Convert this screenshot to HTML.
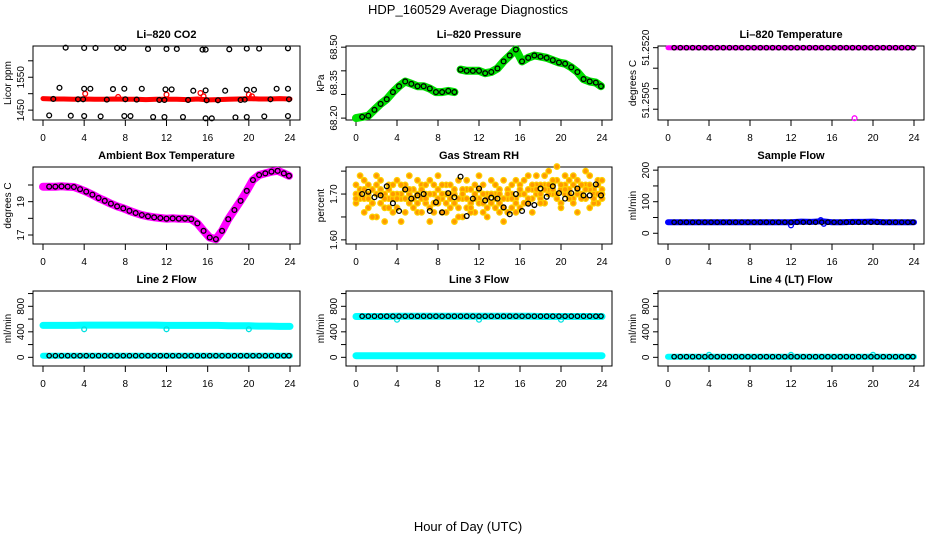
<!DOCTYPE html>
<html><head><meta charset="utf-8">
<style>
html,body{margin:0;padding:0;background:#fff;}
svg{display:block;font-family:"Liberation Sans",sans-serif;}
</style></head>
<body>
<svg id="chart" width="936" height="540" viewBox="0 0 936 540" xmlns="http://www.w3.org/2000/svg">
<text x="468" y="14" text-anchor="middle" font-size="13">HDP_160529  Average Diagnostics</text>
<text x="468" y="531" text-anchor="middle" font-size="13">Hour of Day (UTC)</text>
</svg>
<script>
// ---- data ----
const xTicks = [0,4,8,12,16,20,24];
const blkT = [0.6,1.2,1.8,2.4,3.0,3.6,4.2,4.8,5.4,6.0,6.6,7.2,7.8,8.4,9.0,9.6,10.2,10.8,11.4,12.0,12.6,13.2,13.8,14.4,15.0,15.6,16.2,16.8,17.4,18.0,18.6,19.2,19.8,20.4,21.0,21.6,22.2,22.8,23.4,23.9];
const hourT = [0,1,2,3,4,5,6,7,8,9,10,11,12,13,14,15,16,17,18,19,20,21,22,23,24];

const co2Red = [1485,1484,1484,1483,1484,1483,1483,1484,1483,1483,1482,1483,1483,1483,1482,1484,1481,1482,1483,1484,1485,1484,1484,1485,1484];
const co2RedOutT = [4.1,7.3,12.0,15.3,15.6,20.0,20.3];
const co2RedOutV = [1500,1490,1497,1502,1492,1497,1492];
const co2TopT = [2.2,4.0,5.1,7.2,7.8,10.2,12.0,13.0,15.5,15.8,18.1,19.8,21.0,23.8];
const co2TopV = [1640,1639,1639,1639,1639,1636,1636,1636,1634,1634,1635,1637,1637,1638];
const co2MidT = [1.6,4.0,4.6,6.8,7.9,9.6,11.9,12.5,14.6,15.8,17.7,19.8,20.5,22.7,23.8];
const co2MidV = [1518,1515,1515,1514,1515,1515,1513,1513,1509,1510,1509,1512,1512,1515,1515];
const co2LowT = [1.0,3.4,3.9,6.2,8.0,9.1,11.3,11.8,14.1,15.9,17.0,19.2,19.6,22.1,23.9];
const co2LowV = [1484,1483,1483,1482,1483,1482,1481,1481,1481,1480,1480,1481,1482,1483,1483];
const co2BotT = [0.6,2.7,4.0,5.6,7.9,8.5,10.7,11.8,13.6,15.8,16.4,18.7,19.8,21.5,23.8];
const co2BotV = [1434,1433,1432,1431,1432,1432,1429,1429,1429,1425,1425,1428,1429,1431,1432];

const presV = [68.205,68.21,68.235,68.26,68.28,68.31,68.335,68.355,68.345,68.335,68.335,68.325,68.31,68.31,68.315,68.31,68.405,68.40,68.40,68.40,68.39,68.395,68.41,68.44,68.465,68.49,68.44,68.455,68.465,68.46,68.455,68.445,68.435,68.43,68.415,68.395,68.365,68.355,68.35,68.335];

const tempV = 51.2520;
const tempOutT = [18.2];
const tempOutV = [51.25028];

const ambV = [19.9,19.9,19.92,19.9,19.88,19.75,19.6,19.42,19.22,19.05,18.88,18.72,18.6,18.45,18.32,18.2,18.12,18.06,18.02,17.98,18.0,17.98,17.98,17.95,17.7,17.25,16.85,16.75,17.25,17.95,18.5,19.05,19.65,20.3,20.6,20.7,20.8,20.85,20.7,20.55];

const rhT = [0,0.4,0.8,1.2,1.6,2,2.4,2.8,3.2,3.6,4,4.4,4.8,5.2,5.6,6,6.4,6.8,7.2,7.6,8,8.4,8.8,9.2,9.6,10,10.4,10.8,11.2,11.6,12,12.4,12.8,13.2,13.6,14,14.4,14.8,15.2,15.6,16,16.4,16.8,17.2,17.6,18,18.4,18.8,19.2,19.6,20,20.4,20.8,21.2,21.6,22,22.4,22.8,23.2,23.6,24];
const rhA = [1.72,1.69,1.73,1.67,1.71,1.74,1.68,1.70,1.72,1.66,1.73,1.69,1.71,1.74,1.67,1.70,1.72,1.68,1.73,1.66,1.71,1.69,1.72,1.67,1.70,1.73,1.65,1.71,1.68,1.72,1.69,1.66,1.70,1.73,1.67,1.71,1.64,1.69,1.72,1.66,1.70,1.73,1.68,1.71,1.74,1.69,1.72,1.75,1.70,1.73,1.68,1.74,1.71,1.69,1.73,1.70,1.72,1.67,1.71,1.73,1.69];
const rhB = [1.68,1.71,1.66,1.70,1.68,1.65,1.71,1.67,1.69,1.72,1.67,1.70,1.66,1.68,1.71,1.66,1.69,1.72,1.67,1.70,1.68,1.72,1.66,1.70,1.68,1.65,1.69,1.67,1.71,1.66,1.68,1.70,1.65,1.68,1.70,1.66,1.69,1.71,1.67,1.69,1.72,1.68,1.71,1.69,1.70,1.72,1.68,1.70,1.72,1.69,1.71,1.70,1.73,1.68,1.70,1.72,1.69,1.71,1.70,1.68,1.71];
const rhC = [1.70,1.74,1.69,1.72,1.65,1.70,1.73,1.64,1.71,1.69,1.70,1.64,1.72,1.70,1.69,1.73,1.66,1.70,1.64,1.72,1.74,1.66,1.70,1.72,1.64,1.69,1.71,1.73,1.66,1.69,1.74,1.72,1.67,1.70,1.72,1.70,1.73,1.66,1.70,1.73,1.67,1.70,1.74,1.66,1.72,1.68,1.74,1.71,1.73,1.76,1.67,1.72,1.69,1.74,1.66,1.72,1.75,1.74,1.68,1.70,1.73];
const rhD = [1.69,1.70,1.71,1.69,1.68,1.72,1.70,1.69,1.67,1.70,1.69,1.72,1.69,1.71,1.69,1.68,1.71,1.69,1.70,1.68,1.69,1.70,1.68,1.69,1.71,1.67,1.70,1.69,1.67,1.70,1.71,1.68,1.69,1.70,1.69,1.68,1.67,1.70,1.69,1.68,1.71,1.70,1.69,1.72,1.71,1.70,1.71,1.72,1.71,1.70,1.72,1.71,1.70,1.72,1.71,1.69,1.71,1.72,1.69,1.72,1.70];
const rhBlk = [1.700,1.705,1.693,1.697,1.717,1.680,1.663,1.710,1.690,1.697,1.700,1.663,1.682,1.660,1.702,1.693,1.738,1.652,1.690,1.712,1.686,1.692,1.690,1.671,1.656,1.700,1.663,1.679,1.676,1.712,1.694,1.717,1.702,1.690,1.702,1.712,1.697,1.697,1.721,1.697];

const sampleBlue = [35,35,35,35,35,35,35,35,35,35,35,35,35,37,36,38,35,35,36,36,37,35,35,35,35];
const sampleOutT = [12.0,14.9,15.2];
const sampleOutV = [25,42,30];
const sampleBlk = 35;

const l2High = [500,500,500,500,505,505,505,505,505,505,505,505,500,500,500,500,500,500,495,495,495,490,490,485,485];
const l2Low = 25;
const l2DipT = [4.0,12.0,20.0];
const l2DipV = [440,440,440];
const l3High = [640,640,640,640,645,645,645,645,645,645,645,645,645,645,645,645,645,645,640,640,640,640,640,640,640];
const l3Blk = 645;
const l3Low = 25;
const l3DipT = [4.0,12.0,20.0];
const l3DipV = [590,590,590];
const l4Val = 10;
const l4BumpT = [4.0,12.0,20.0];
const l4BumpV = [40,40,40];

// ---- drawing ----
const svg = document.getElementById('chart');
const NS = 'http://www.w3.org/2000/svg';
function mk(tag, attrs, parent){ const e=document.createElementNS(NS,tag); for(const k in attrs) e.setAttribute(k,attrs[k]); (parent||svg).appendChild(e); return e; }

function panel(p){
  const g = mk('g',{});
  
  
  const sx = t => p.x0 + 10 + t/24*(p.x1-p.x0-20);
  const sy = v => p.y1 - (v-p.ymin)/(p.ymax-p.ymin)*(p.y1-p.y0);
  p.sx=sx; p.sy=sy; p.g=g;
  const box = mk('rect',{x:p.x0,y:p.y0,width:p.x1-p.x0,height:p.y1-p.y0,fill:'none',stroke:'#000','stroke-width':1},g);
  
  
  const tt = mk('text',{x:(p.x0+p.x1)/2,y:p.y0-8,'text-anchor':'middle','font-size':11,'font-weight':'bold'},g);
  tt.textContent = p.title;
  
  
  mk('line',{x1:sx(0),x2:sx(24),y1:p.y1,y2:p.y1,stroke:'#000'},g);
  xTicks.forEach(t=>{
    mk('line',{x1:sx(t),x2:sx(t),y1:p.y1,y2:p.y1+6,stroke:'#000'},g);
    const l = mk('text',{x:sx(t),y:p.y1+21,'text-anchor':'middle','font-size':10},g);
    l.textContent = t;
    
    
  });
  const ty = p.yticks.map(sy);
  mk('line',{x1:p.x0,x2:p.x0,y1:Math.min(...ty),y2:Math.max(...ty),stroke:'#000'},g);
  p.yticks.forEach(v=>mk('line',{x1:p.x0-5,x2:p.x0,y1:sy(v),y2:sy(v),stroke:'#000'},g));
  p.ylabels.forEach((v,i)=>{
    const y = sy(v);
    const l = mk('text',{x:p.x0-9,y:y,'text-anchor':'middle','font-size':10,transform:`rotate(-90 ${p.x0-9} ${y})`},g);
    l.textContent = p.ylabelText[i];
    
    
  });
  const yc=(p.y0+p.y1)/2;
  const yt = mk('text',{x:p.x0-22,y:yc,'text-anchor':'middle','font-size':10,transform:`rotate(-90 ${p.x0-22} ${yc})`},g);
  yt.textContent = p.ylab;
  
  
  return p;
}
function pts(p, ts, vs, color, opts){
  opts=opts||{};
  ts.forEach((t,i)=>{
    const v = Array.isArray(vs)? vs[i] : vs;
    if (v === undefined) return;
    const c = mk('circle',{cx:p.sx(t),cy:p.sy(v),r:opts.r||2.4,fill:opts.fill||'none',stroke:color,'stroke-width':opts.sw||1.3},p.g);
    
    
  });
}
function band(p, ts, vs, color, w, name){
  const d = ts.map((t,i)=>(i?'L':'M')+p.sx(t).toFixed(1)+' '+p.sy(Array.isArray(vs)?vs[i]:vs).toFixed(1)).join(' ');
  const e = mk('path',{d:d,fill:'none',stroke:color,'stroke-width':w,'stroke-linejoin':'round','stroke-linecap':'round'},p.g);
  
  
}

const C1=[33,300], C2=[346,612], C3=[658,924];
const R1=[46,120], R2=[167,244], R3=[291,366];

// CO2
let p = panel({name:'co2-panel',title:'Li\u2013820 CO2',ylab:'Licor ppm',x0:C1[0],x1:C1[1],y0:R1[0],y1:R1[1],ymin:1420,ymax:1645,yticks:[1450,1500,1550,1600],ylabels:[1450,1550],ylabelText:['1450','1550']});
band(p,hourT,co2Red,'#ff0000',5,'co2-red-series');
pts(p,co2RedOutT,co2RedOutV,'#ff0000',{name:'co2-red-outlier'});
pts(p,co2TopT,co2TopV,'#000',{name:'co2-black-point'});
pts(p,co2MidT,co2MidV,'#000',{name:'co2-black-point'});
pts(p,co2LowT,co2LowV,'#000',{name:'co2-black-point'});
pts(p,co2BotT,co2BotV,'#000',{name:'co2-black-point'});

// Pressure
p = panel({name:'pressure-panel',title:'Li\u2013820 Pressure',ylab:'kPa',x0:C2[0],x1:C2[1],y0:R1[0],y1:R1[1],ymin:68.192,ymax:68.505,yticks:[68.20,68.30,68.40,68.50],ylabels:[68.20,68.35,68.50],ylabelText:['68.20','68.35','68.50']});
band(p,[0].concat(blkT.slice(0,16)),[68.2].concat(presV.slice(0,16)),'#00e000',8,'pressure-green-series');
band(p,blkT.slice(16),presV.slice(16),'#00e000',8,'pressure-green-series');
pts(p,blkT,presV,'#000',{name:'pressure-black-point'});

// Temperature
p = panel({name:'li820-temperature-panel',title:'Li\u2013820 Temperature',ylab:'degrees C',x0:C3[0],x1:C3[1],y0:R1[0],y1:R1[1],ymin:51.250237,ymax:51.252041,yticks:[51.2520,51.2515,51.2510,51.2505],ylabels:[51.2520,51.25072],ylabelText:['51.2520','51.2505']});
band(p,hourT,tempV,'#ff00ff',5,'temperature-magenta-series');
pts(p,blkT,tempV,'#000',{name:'temperature-black-point',r:2.2});
pts(p,tempOutT,tempOutV,'#ff00ff',{name:'temperature-outlier'});

// Ambient
p = panel({name:'ambient-temperature-panel',title:'Ambient Box Temperature',ylab:'degrees C',x0:C1[0],x1:C1[1],y0:R2[0],y1:R2[1],ymin:16.46,ymax:21.08,yticks:[17,18,19,20],ylabels:[17,19],ylabelText:['17','19']});
band(p,[0].concat(blkT),[19.9].concat(ambV),'#ff00ff',8,'ambient-magenta-series');
pts(p,blkT,ambV,'#000',{name:'ambient-black-point'});

// RH
p = panel({name:'gas-stream-rh-panel',title:'Gas Stream RH',ylab:'percent',x0:C2[0],x1:C2[1],y0:R2[0],y1:R2[1],ymin:1.591,ymax:1.759,yticks:[1.60,1.65,1.70,1.75],ylabels:[1.60,1.70],ylabelText:['1.60','1.70']});
[rhA,rhB,rhC,rhD].forEach(arr=>pts(p,rhT,arr,'#ffd000',{fill:'#ff9a00',r:2.8,sw:1.2,name:'rh-orange-point'}));
pts(p,blkT,rhBlk,'#000',{name:'rh-black-point'});

// Sample flow
p = panel({name:'sample-flow-panel',title:'Sample Flow',ylab:'ml/min',x0:C3[0],x1:C3[1],y0:R2[0],y1:R2[1],ymin:-34,ymax:210,yticks:[0,50,100,150,200],ylabels:[0,100,200],ylabelText:['0','100','200']});
band(p,hourT,sampleBlue,'#0000ff',6,'sample-flow-blue-series');
pts(p,sampleOutT,sampleOutV,'#0000ff',{name:'sample-flow-blue-outlier'});
pts(p,blkT,sampleBlk,'#000',{name:'sample-flow-black-point',r:2.2});

// Line 2
const fl = {ymin:-136,ymax:1040,yticks:[0,200,400,600,800,1000],ylabels:[0,400,800],ylabelText:['0','400','800'],ylab:'ml/min',y0:R3[0],y1:R3[1]};
p = panel(Object.assign({name:'line2-flow-panel',title:'Line 2 Flow',x0:C1[0],x1:C1[1]},fl));
band(p,hourT,l2High,'#00ffff',7,'line2-cyan-high-series');
band(p,hourT,l2Low,'#00ffff',6,'line2-cyan-low-series');
pts(p,l2DipT,l2DipV,'#00e0e0',{name:'line2-cyan-dip'});
pts(p,blkT,l2Low,'#000',{name:'line2-black-point',r:2.2});

// Line 3
p = panel(Object.assign({name:'line3-flow-panel',title:'Line 3 Flow',x0:C2[0],x1:C2[1]},fl));
band(p,hourT,l3High,'#00ffff',7,'line3-cyan-high-series');
band(p,hourT,l3Low,'#00ffff',7,'line3-cyan-low-series');
pts(p,l3DipT,l3DipV,'#00e0e0',{name:'line3-cyan-dip'});
pts(p,blkT,l3Blk,'#000',{name:'line3-black-point',r:2.2});

// Line 4
p = panel(Object.assign({name:'line4-flow-panel',title:'Line 4 (LT) Flow',x0:C3[0],x1:C3[1]},fl));
band(p,hourT,l4Val,'#00ffff',6,'line4-cyan-series');
pts(p,l4BumpT,l4BumpV,'#00e0e0',{name:'line4-cyan-bump'});
pts(p,blkT,l4Val,'#000',{name:'line4-black-point',r:2.2});
</script>
</body></html>
